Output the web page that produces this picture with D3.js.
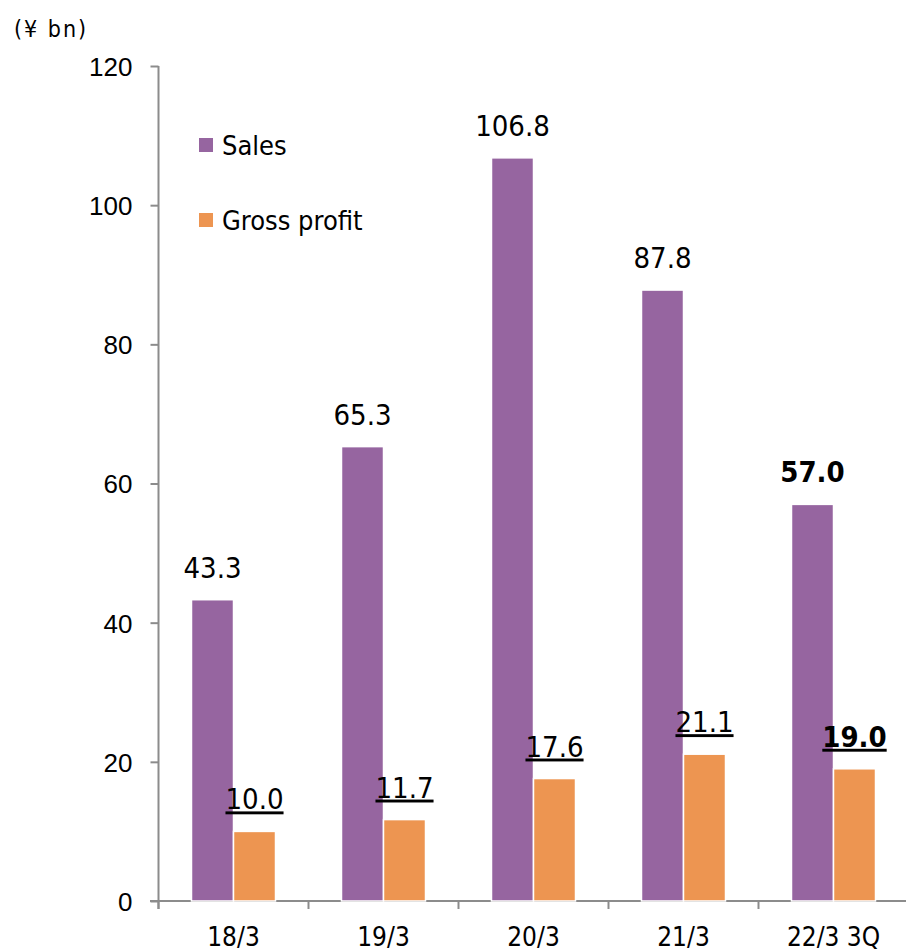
<!DOCTYPE html>
<html>
<head>
<meta charset="utf-8">
<script src="https://cdn.jsdelivr.net/npm/d3@7"></script>
<style>
  body { margin: 0; background: #fff; }
  svg { display: block; font-family: "DejaVu Sans Condensed", "DejaVu Sans", sans-serif; font-stretch: condensed; }
</style>
</head>
<body>
<div id="chart"></div>
<script>
// fiscal years, last one is cumulative 3Q
var categories = ["18/3", "19/3", "20/3", "21/3", "22/3 3Q"];
var sales = [43.3, 65.3, 106.8, 87.8, 57.0];
var grossProfit = [10.0, 11.7, 17.6, 21.1, 19.0];
var yTicks = [0, 20, 40, 60, 80, 100, 120];
var seriesNames = ["Sales", "Gross profit"];

var width = 906, height = 952;
var purple = "#9665a0", orange = "#ed9551", axisGrey = "#8c8c8c";

var svg = d3.select("#chart").append("svg")
    .attr("width", width)
    .attr("height", height);

var y = d3.scaleLinear().domain([0, 120]).range([901, 66]);
var x = d3.scaleBand().domain(categories).range([158.5, 908.5]);
var sub = d3.scaleBand().domain(["sales", "gross"]).range([-42, 42]);

var rows = categories.map(function(c, i) {
    return {cat: c, sales: sales[i], gross: grossProfit[i], last: i === categories.length - 1};
});

// unit label
svg.append("text")
    .attr("x", 14).attr("y", 37)
    .style("font-size", "23px")
    .style("letter-spacing", "2px")
    .text("(¥ bn)");

// y axis
var yAxis = d3.axisLeft(y).tickValues(yTicks).tickSize(8).tickSizeOuter(0).tickPadding(18);
var gy = svg.append("g").attr("transform", "translate(158.5,0)").call(yAxis);
gy.select(".domain").remove();
gy.selectAll("line").attr("stroke", axisGrey).attr("stroke-width", 2);
gy.selectAll("text").style("font-size", "26px").style("font-family", null).attr("fill", "#000").attr("dy", "0.36em");
gy.append("line").attr("x1", 0).attr("x2", 0).attr("y1", y(120)).attr("y2", 909)
    .attr("stroke", axisGrey).attr("stroke-width", 2);

// x axis
var gx = svg.append("g").attr("transform", "translate(0,901)");
gx.append("line").attr("x1", 150).attr("x2", width).attr("y1", 0).attr("y2", 0)
    .attr("stroke", axisGrey).attr("stroke-width", 2);
gx.selectAll("line.tick").data(categories).enter().append("line")
    .attr("class", "tick")
    .attr("x1", function(d) { return x(d); }).attr("x2", function(d) { return x(d); })
    .attr("y1", 0).attr("y2", 8)
    .attr("stroke", axisGrey).attr("stroke-width", 2);
gx.selectAll("text").data(categories).enter().append("text")
    .attr("x", function(d) { return x(d) + x.bandwidth() / 2; })
    .attr("y", 45)
    .attr("text-anchor", "middle")
    .style("font-size", "26px")
    .text(function(d) { return d; });

// bars
var groups = svg.selectAll("g.cat").data(rows).enter().append("g")
    .attr("class", "cat")
    .attr("transform", function(d) { return "translate(" + (x(d.cat) + x.bandwidth() / 2) + ",0)"; });

groups.append("rect")
    .attr("x", sub("sales")).attr("width", sub.bandwidth())
    .attr("y", function(d) { return y(d.sales); })
    .attr("height", function(d) { return y(0) - y(d.sales); })
    .attr("fill", purple).attr("stroke", "#fff").attr("stroke-width", 1.5);

groups.append("rect")
    .attr("x", sub("gross")).attr("width", sub.bandwidth())
    .attr("y", function(d) { return y(d.gross); })
    .attr("height", function(d) { return y(0) - y(d.gross); })
    .attr("fill", orange).attr("stroke", "#fff").attr("stroke-width", 1.5);

// value labels
groups.append("text")
    .attr("x", sub("sales") + sub.bandwidth() / 2)
    .attr("y", function(d) { return y(d.sales) - 22; })
    .attr("text-anchor", "middle")
    .style("font-size", "29px")
    .style("font-weight", function(d) { return d.last ? "bold" : "normal"; })
    .text(function(d) { return d.sales.toFixed(1); });

groups.append("text")
    .attr("x", sub("gross") + sub.bandwidth() / 2)
    .attr("y", function(d) { return y(d.gross) - 22; })
    .attr("text-anchor", "middle")
    .style("font-size", "29px")
    .style("text-decoration", "underline")
    .style("font-weight", function(d) { return d.last ? "bold" : "normal"; })
    .text(function(d) { return d.gross.toFixed(1); });

// legend
var legend = svg.selectAll("g.legend").data(seriesNames).enter().append("g")
    .attr("class", "legend")
    .attr("transform", function(d, i) { return "translate(199," + (138 + i * 75) + ")"; });
legend.append("rect").attr("width", 14).attr("height", 14)
    .attr("fill", function(d, i) { return i === 0 ? purple : orange; });
legend.append("text").attr("x", 23).attr("y", 17)
    .style("font-size", "27px")
    .text(function(d) { return d; });
</script>
</body>
</html>
